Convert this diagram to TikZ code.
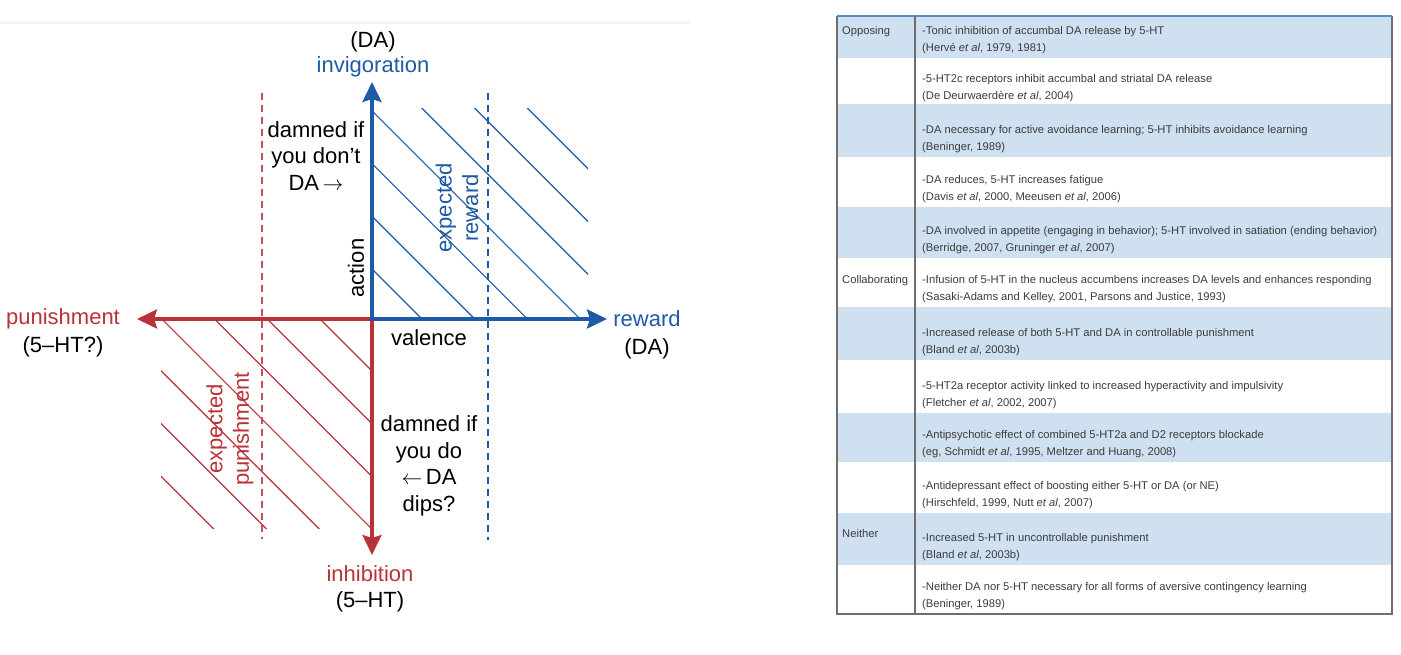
\documentclass[tikz,border=0pt]{standalone}
\usepackage{fontspec}
\setmainfont{Liberation Sans}
\usepackage{xcolor}
\usepackage{tikz}
\usetikzlibrary{arrows.meta, positioning}

\definecolor{figblue}{RGB}{30,90,165}
\definecolor{figred}{RGB}{185,50,55}
\definecolor{rowshade}{RGB}{207,224,240}
\definecolor{tabtext}{RGB}{60,60,60}
\definecolor{tabline}{RGB}{110,110,110}
\definecolor{tabtop}{RGB}{90,140,195}

\tikzset{
  axis/.style={line width=3.6pt, -{Stealth[length=20pt,width=19pt,inset=3pt]}},
  hatch/.style={line width=1.2pt},
  guide/.style={line width=1.3pt, dash pattern=on 7pt off 5pt},
  lab/.style={font=\fontsize{22}{26.5}\selectfont, inner sep=0pt, align=center},
  cell/.style={font=\fontsize{11.2}{17}\selectfont, text=tabtext, inner sep=0pt,
               align=left, anchor=west},
}

\begin{document}
\begin{tikzpicture}[x=1pt, y=-1pt]
  \useasboundingbox (0,0) rectangle (1401,654);
  \draw[black!4, line width=3pt] (0,22) -- (690,22);

  % quadrants
  \coordinate (O) at (372,319);
  \coordinate (up) at (372,82);
  \coordinate (down) at (372,555);
  \coordinate (right) at (607,319);
  \coordinate (left) at (137,319);

  \begin{scope}
    \clip (372,108) rectangle (588,319);
    \foreach \k in {0,...,6}
      \draw[hatch, figblue] ({422+52.7*\k},319) -- ++(-260,-260);
  \end{scope}
  \begin{scope}
    \clip (161,319) rectangle (371,528);
    \foreach \k in {0,...,6}
      \draw[hatch, figred] ({320-52.7*\k},319) -- ++(260,260);
  \end{scope}

  \draw[guide, figred!85] (262,93) -- (262,539);
  \draw[guide, figblue] (488,93) -- (488,540);

  \draw[axis, figred] (O) -- (left);
  \draw[axis, figred] (O) -- (down);
  \draw[axis, figblue, shorten <=-1.8pt] (O) -- (up);
  \draw[axis, figblue, shorten <=-1.8pt] (O) -- (right);

  % axis labels
  \node[lab, text=figblue] (invig) at (373,67) {invigoration};
  \node[lab] (datop) at (373,42) {(DA)};
  \node[lab, text=figblue] (reward) at (647,319) {reward};
  \node[lab] (rewardda) at (647,349) {(DA)};
  \node[lab, text=figred] (punish) at (63,319) {punishment};
  \node[lab] (punishht) at (63,347) {(5–HT?)};
  \node[lab, text=figred] (inhib) at (370,574) {inhibition};
  \node[lab] (inhibht) at (370,602) {(5–HT)};

  \node[lab, rotate=90] (action) at (356,268) {action};
  \node[lab] (valence) at (429,338) {valence};
  \node[lab, rotate=90, text=figblue] (expreward) at (457,208) {expected\\reward};
  \node[lab, rotate=90, text=figred] (exppun) at (230,429) {expected\\punishment};
  \node[lab] (dontnote) at (316,156) {damned if\\you don’t\\DA\,$\rightarrow$};
  \node[lab] (donote) at (429,466) {damned if\\you do\\$\leftarrow$\,DA\\dips?};

  % table
  \foreach \yt/\yb in {16/58, 104/157, 207/258, 307/360, 413/462, 513/565}
    \fill[rowshade] (837,\yt) rectangle (1392,\yb);

  \node[cell] (r1) at (922,40.5) {-Tonic inhibition of accumbal DA release by 5-HT\\(Hervé \textit{et al}, 1979, 1981)};
  \node[cell] (r2) at (922,88.5) {-5-HT2c receptors inhibit accumbal and striatal DA release\\(De Deurwaerdère \textit{et al}, 2004)};
  \node[cell] (r3) at (922,139.5) {-DA necessary for active avoidance learning; 5-HT inhibits avoidance learning\\(Beninger, 1989)};
  \node[cell] (r4) at (922,189.5) {-DA reduces, 5-HT increases fatigue\\(Davis \textit{et al}, 2000, Meeusen \textit{et al}, 2006)};
  \node[cell] (r5) at (922,240.5) {-DA involved in appetite (engaging in behavior); 5-HT involved in satiation (ending behavior)\\(Berridge, 2007, Gruninger \textit{et al}, 2007)};
  \node[cell] (r6) at (922,289.5) {-Infusion of 5-HT in the nucleus accumbens increases DA levels and enhances responding\\(Sasaki-Adams and Kelley, 2001, Parsons and Justice, 1993)};
  \node[cell] (r7) at (922,342.5) {-Increased release of both 5-HT and DA in controllable punishment\\(Bland \textit{et al}, 2003b)};
  \node[cell] (r8) at (922,395.5) {-5-HT2a receptor activity linked to increased hyperactivity and impulsivity\\(Fletcher \textit{et al}, 2002, 2007)};
  \node[cell] (r9) at (922,444.5) {-Antipsychotic effect of combined 5-HT2a and D2 receptors blockade\\(eg, Schmidt \textit{et al}, 1995, Meltzer and Huang, 2008)};
  \node[cell] (r10) at (922,495.5) {-Antidepressant effect of boosting either 5-HT or DA (or NE)\\(Hirschfeld, 1999, Nutt \textit{et al}, 2007)};
  \node[cell] (r11) at (922,547.5) {-Increased 5-HT in uncontrollable punishment\\(Bland \textit{et al}, 2003b)};
  \node[cell] (r12) at (922,596.5) {-Neither DA nor 5-HT necessary for all forms of aversive contingency learning\\(Beninger, 1989)};

  \node[cell] (opp) at (842,32) {Opposing};
  \node[cell] (coll) at (842,281) {Collaborating};
  \node[cell] (neith) at (842,533) {Neither};

  \draw[tabline, line width=1.2pt] (837,16) -- (837,614) -- (1392,614) -- (1392,16);
  \draw[tabtop, line width=1.5pt] (837,16) -- (1392,16);
  \draw[tabline, line width=2pt] (915,16) -- (915,614);
\end{tikzpicture}
\end{document}
